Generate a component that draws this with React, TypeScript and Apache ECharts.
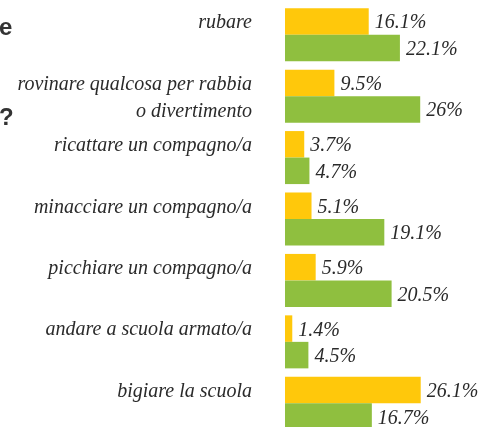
import React, { useEffect, useRef } from "react";
import * as echarts from "echarts";

const categories = [
  "rubare",
  "rovinare qualcosa per rabbia\no divertimento",
  "ricattare un compagno/a",
  "minacciare un compagno/a",
  "picchiare un compagno/a",
  "andare a scuola armato/a",
  "bigiare la scuola",
];
const yellowValues = [16.1, 9.5, 3.7, 5.1, 5.9, 1.4, 26.1];
const greenValues = [22.1, 26, 4.7, 19.1, 20.5, 4.5, 16.7];

const FONT = "Liberation Serif";

export default function App() {
  const ref = useRef<HTMLDivElement>(null);
  useEffect(() => {
    if (!ref.current) return;
    const chart = echarts.init(ref.current, null, { renderer: "svg" });
    const labelStyle = {
      show: true,
      position: "right",
      distance: 6,
      fontFamily: FONT,
      fontStyle: "italic",
      fontSize: 20,
      color: "#2a2a2a",
      formatter: (p: any) => `${p.value}%`,
    };
    chart.setOption({
      animation: false,
      textStyle: { fontFamily: FONT, fontStyle: "italic" },
      grid: { left: 285, top: 4, width: 156, height: 430 },
      xAxis: {
        type: "value",
        min: 0,
        max: 30,
        show: false,
      },
      yAxis: {
        type: "category",
        data: categories,
        inverse: true,
        axisLine: { show: false },
        axisTick: { show: false },
        splitLine: { show: false },
        axisLabel: {
          margin: 33,
          fontFamily: FONT,
          fontStyle: "italic",
          fontSize: 20,
          lineHeight: 27,
          color: "#2a2a2a",
          formatter: (v: string) => (v.includes("\n") ? v : v + "\n "),
        },
      },
      graphic: [
        {
          type: "text",
          x: -1,
          y: 14,
          style: {
            text: "e",
            fontFamily: "Liberation Sans",
            fontStyle: "normal",
            fontWeight: "bold",
            fontSize: 24,
            fill: "#333333",
          },
        },
        {
          type: "text",
          x: -1,
          y: 104,
          style: {
            text: "?",
            fontFamily: "Liberation Sans",
            fontStyle: "normal",
            fontWeight: "bold",
            fontSize: 24,
            fill: "#333333",
          },
        },
      ],
      series: [
        {
          type: "bar",
          data: yellowValues,
          barGap: "0%",
          barCategoryGap: "13.7%",
          itemStyle: { color: "#FFC80B" },
          label: labelStyle,
        },
        {
          type: "bar",
          data: greenValues,
          barGap: "0%",
          barCategoryGap: "13.7%",
          itemStyle: { color: "#8FBF3F" },
          label: labelStyle,
        },
      ],
    });
    return () => chart.dispose();
  }, []);
  return (
    <div
      ref={ref}
      style={{ position: "fixed", left: 0, top: 0, width: 480, height: 440 }}
    />
  );
}
